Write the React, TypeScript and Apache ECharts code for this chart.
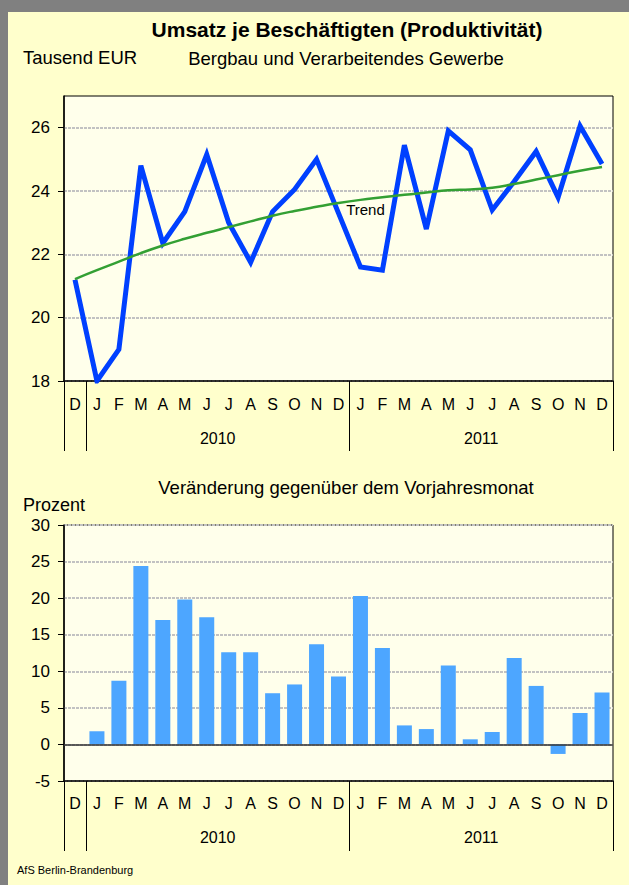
import React, { useEffect, useRef } from "react";
import * as echarts from "echarts";

// ---- data ----
const months = ["D", "J", "F", "M", "A", "M", "J", "J", "A", "S", "O", "N", "D", "J", "F", "M", "A", "M", "J", "J", "A", "S", "O", "N", "D"];
const productivity = [21.2, 18.0, 19.0, 24.8, 22.35, 23.35, 25.15, 23.0, 21.75, 23.35, 24.05, 25.0, 23.3, 21.6, 21.5, 25.45, 22.8, 25.9, 25.3, 23.4, 24.3, 25.25, 23.8, 26.05, 24.85];
const trend = [21.22, 21.5, 21.77, 22.04, 22.28, 22.49, 22.68, 22.86, 23.04, 23.22, 23.37, 23.5, 23.62, 23.72, 23.8, 23.88, 23.95, 24.02, 24.05, 24.1, 24.22, 24.36, 24.5, 24.64, 24.76];
const change: (number | null)[] = [null, 1.8, 8.7, 24.4, 17.0, 19.8, 17.4, 12.6, 12.6, 7.0, 8.2, 13.7, 9.3, 20.3, 13.2, 2.6, 2.1, 10.8, 0.7, 1.7, 11.8, 8.0, -1.3, 4.3, 7.1];
const years = ["2010", "2011"];
const yearStartIndex = [1, 13];
const monthsPerYear = 12;
const topTicks = [18, 20, 22, 24, 26];
const trendLabelIndex = 13;

const FONT = "'Liberation Sans', Arial, Helvetica, sans-serif";

// year label positions on a 0..N value axis (centre of each year's months)
const yearCenters = yearStartIndex.map((s) => s + monthsPerYear / 2);
const boundaryIdx = [0, ...yearStartIndex];

function buildOption(): any {
  const gridLine = { show: true, lineStyle: { color: "#C2C2C2", width: 2, type: [3, 1] } };
  const monthAxis = (gridIndex: number, margin: number) => ({
    type: "category",
    gridIndex,
    data: months,
    boundaryGap: true,
    position: "bottom",
    axisLine: { show: true, onZero: false, lineStyle: { color: "#000", width: 1.5 } },
    axisTick: {
      show: true,
      length: 70,
      interval: (i: number) => boundaryIdx.indexOf(i) >= 0,
      lineStyle: { color: "#000", width: 1 },
    },
    axisLabel: { interval: 0, margin, fontSize: 16, color: "#000", fontFamily: FONT },
    splitLine: { show: false },
  });
  const yearAxis = (gridIndex: number, margin: number) => ({
    type: "value",
    gridIndex,
    position: "bottom",
    min: 0,
    max: months.length,
    interval: 1,
    axisLine: { show: false, onZero: false },
    axisTick: { show: false },
    splitLine: { show: false },
    axisLabel: {
      margin,
      fontSize: 16,
      color: "#000",
      fontFamily: FONT,
      showMinLabel: true,
      showMaxLabel: true,
      formatter: (v: number) => {
        const k = yearCenters.indexOf(v);
        return k >= 0 ? years[k] : "";
      },
    },
  });
  const text = (t: string, x: number, y: number, size: number, align: string, weight = "normal") => ({
    type: "text",
    x,
    y,
    silent: true,
    style: {
      text: t,
      fill: "#000",
      font: `${weight} ${size}px ${FONT}`,
      align,
      verticalAlign: "middle",
      textAlign: align,
      textVerticalAlign: "middle",
    },
  });

  return {
    animation: false,
    backgroundColor: "#FFFFCC",
    grid: [
      { left: 64, top: 96, width: 549, height: 285, show: true, backgroundColor: "#FFFFEB", borderColor: "#000", borderWidth: 1 },
      { left: 64, top: 525, width: 549, height: 256, show: true, backgroundColor: "#FFFFEB", borderColor: "#000", borderWidth: 1 },
    ],
    xAxis: [monthAxis(0, 15), yearAxis(0, 49), monthAxis(1, 14), yearAxis(1, 48)],
    yAxis: [
      {
        type: "value",
        gridIndex: 0,
        min: 18,
        max: 27,
        interval: 2,
        axisLine: { show: true, lineStyle: { color: "#000", width: 1.5 } },
        axisTick: { show: true, length: 6, customValues: topTicks, lineStyle: { color: "#000" } },
        axisLabel: { customValues: topTicks, margin: 14, fontSize: 17, color: "#000", fontFamily: FONT },
        splitLine: gridLine,
      },
      {
        type: "value",
        gridIndex: 1,
        min: -5,
        max: 30,
        interval: 5,
        axisLine: { show: true, lineStyle: { color: "#000", width: 1.5 } },
        axisTick: { show: true, length: 6, lineStyle: { color: "#000" } },
        axisLabel: { margin: 14, fontSize: 17, color: "#000", fontFamily: FONT },
        splitLine: gridLine,
      },
    ],
    series: [
      {
        type: "line",
        xAxisIndex: 0,
        yAxisIndex: 0,
        data: productivity,
        showSymbol: false,
        symbol: "none",
        lineStyle: { color: "#0040FF", width: 5, join: "miter" },
        z: 2,
      },
      {
        type: "line",
        xAxisIndex: 0,
        yAxisIndex: 0,
        data: trend,
        smooth: true,
        showSymbol: false,
        symbol: "none",
        lineStyle: { color: "#33A033", width: 2.5 },
        z: 3,
        markPoint: {
          silent: true,
          symbol: "circle",
          symbolSize: 0,
          itemStyle: { color: "transparent" },
          label: {
            show: true,
            position: "bottom",
            distance: 2,
            offset: [5, 0],
            formatter: "Trend",
            fontSize: 15,
            color: "#000",
            fontFamily: FONT,
          },
          data: [{ coord: [trendLabelIndex, trend[trendLabelIndex]] }],
        },
      },
      {
        type: "bar",
        xAxisIndex: 2,
        yAxisIndex: 1,
        data: change,
        barWidth: 15,
        itemStyle: { color: "#4DA6FF" },
        markLine: {
          silent: true,
          symbol: ["none", "none"],
          label: { show: false },
          lineStyle: { color: "#333", width: 1.5, type: "solid" },
          data: [{ yAxis: 0 }],
        },
      },
    ],
    graphic: [
      { type: "rect", shape: { x: 0, y: 0, width: 629, height: 12 }, style: { fill: "#808080" }, silent: true },
      { type: "rect", shape: { x: 0, y: 0, width: 8, height: 885 }, style: { fill: "#808080" }, silent: true },
      text("Umsatz je Beschäftigten (Produktivität)", 347, 29, 21, "center", "bold"),
      text("Tausend EUR", 23, 57, 18.5, "left"),
      text("Bergbau und Verarbeitendes Gewerbe", 346, 58, 18.5, "center"),
      text("Veränderung gegenüber dem Vorjahresmonat", 346, 487, 18.5, "center"),
      text("Prozent", 23, 505, 18, "left"),
      text("AfS Berlin-Brandenburg", 17, 870, 11, "left"),
    ],
  };
}

export default function App() {
  const ref = useRef<HTMLDivElement>(null);
  useEffect(() => {
    if (!ref.current) return;
    const chart = echarts.init(ref.current, undefined, { renderer: "svg" });
    chart.setOption(buildOption());
    return () => chart.dispose();
  }, []);
  return (
    <div
      ref={ref}
      style={{ position: "fixed", left: 0, top: 0, width: 629, height: 885 }}
    />
  );
}
